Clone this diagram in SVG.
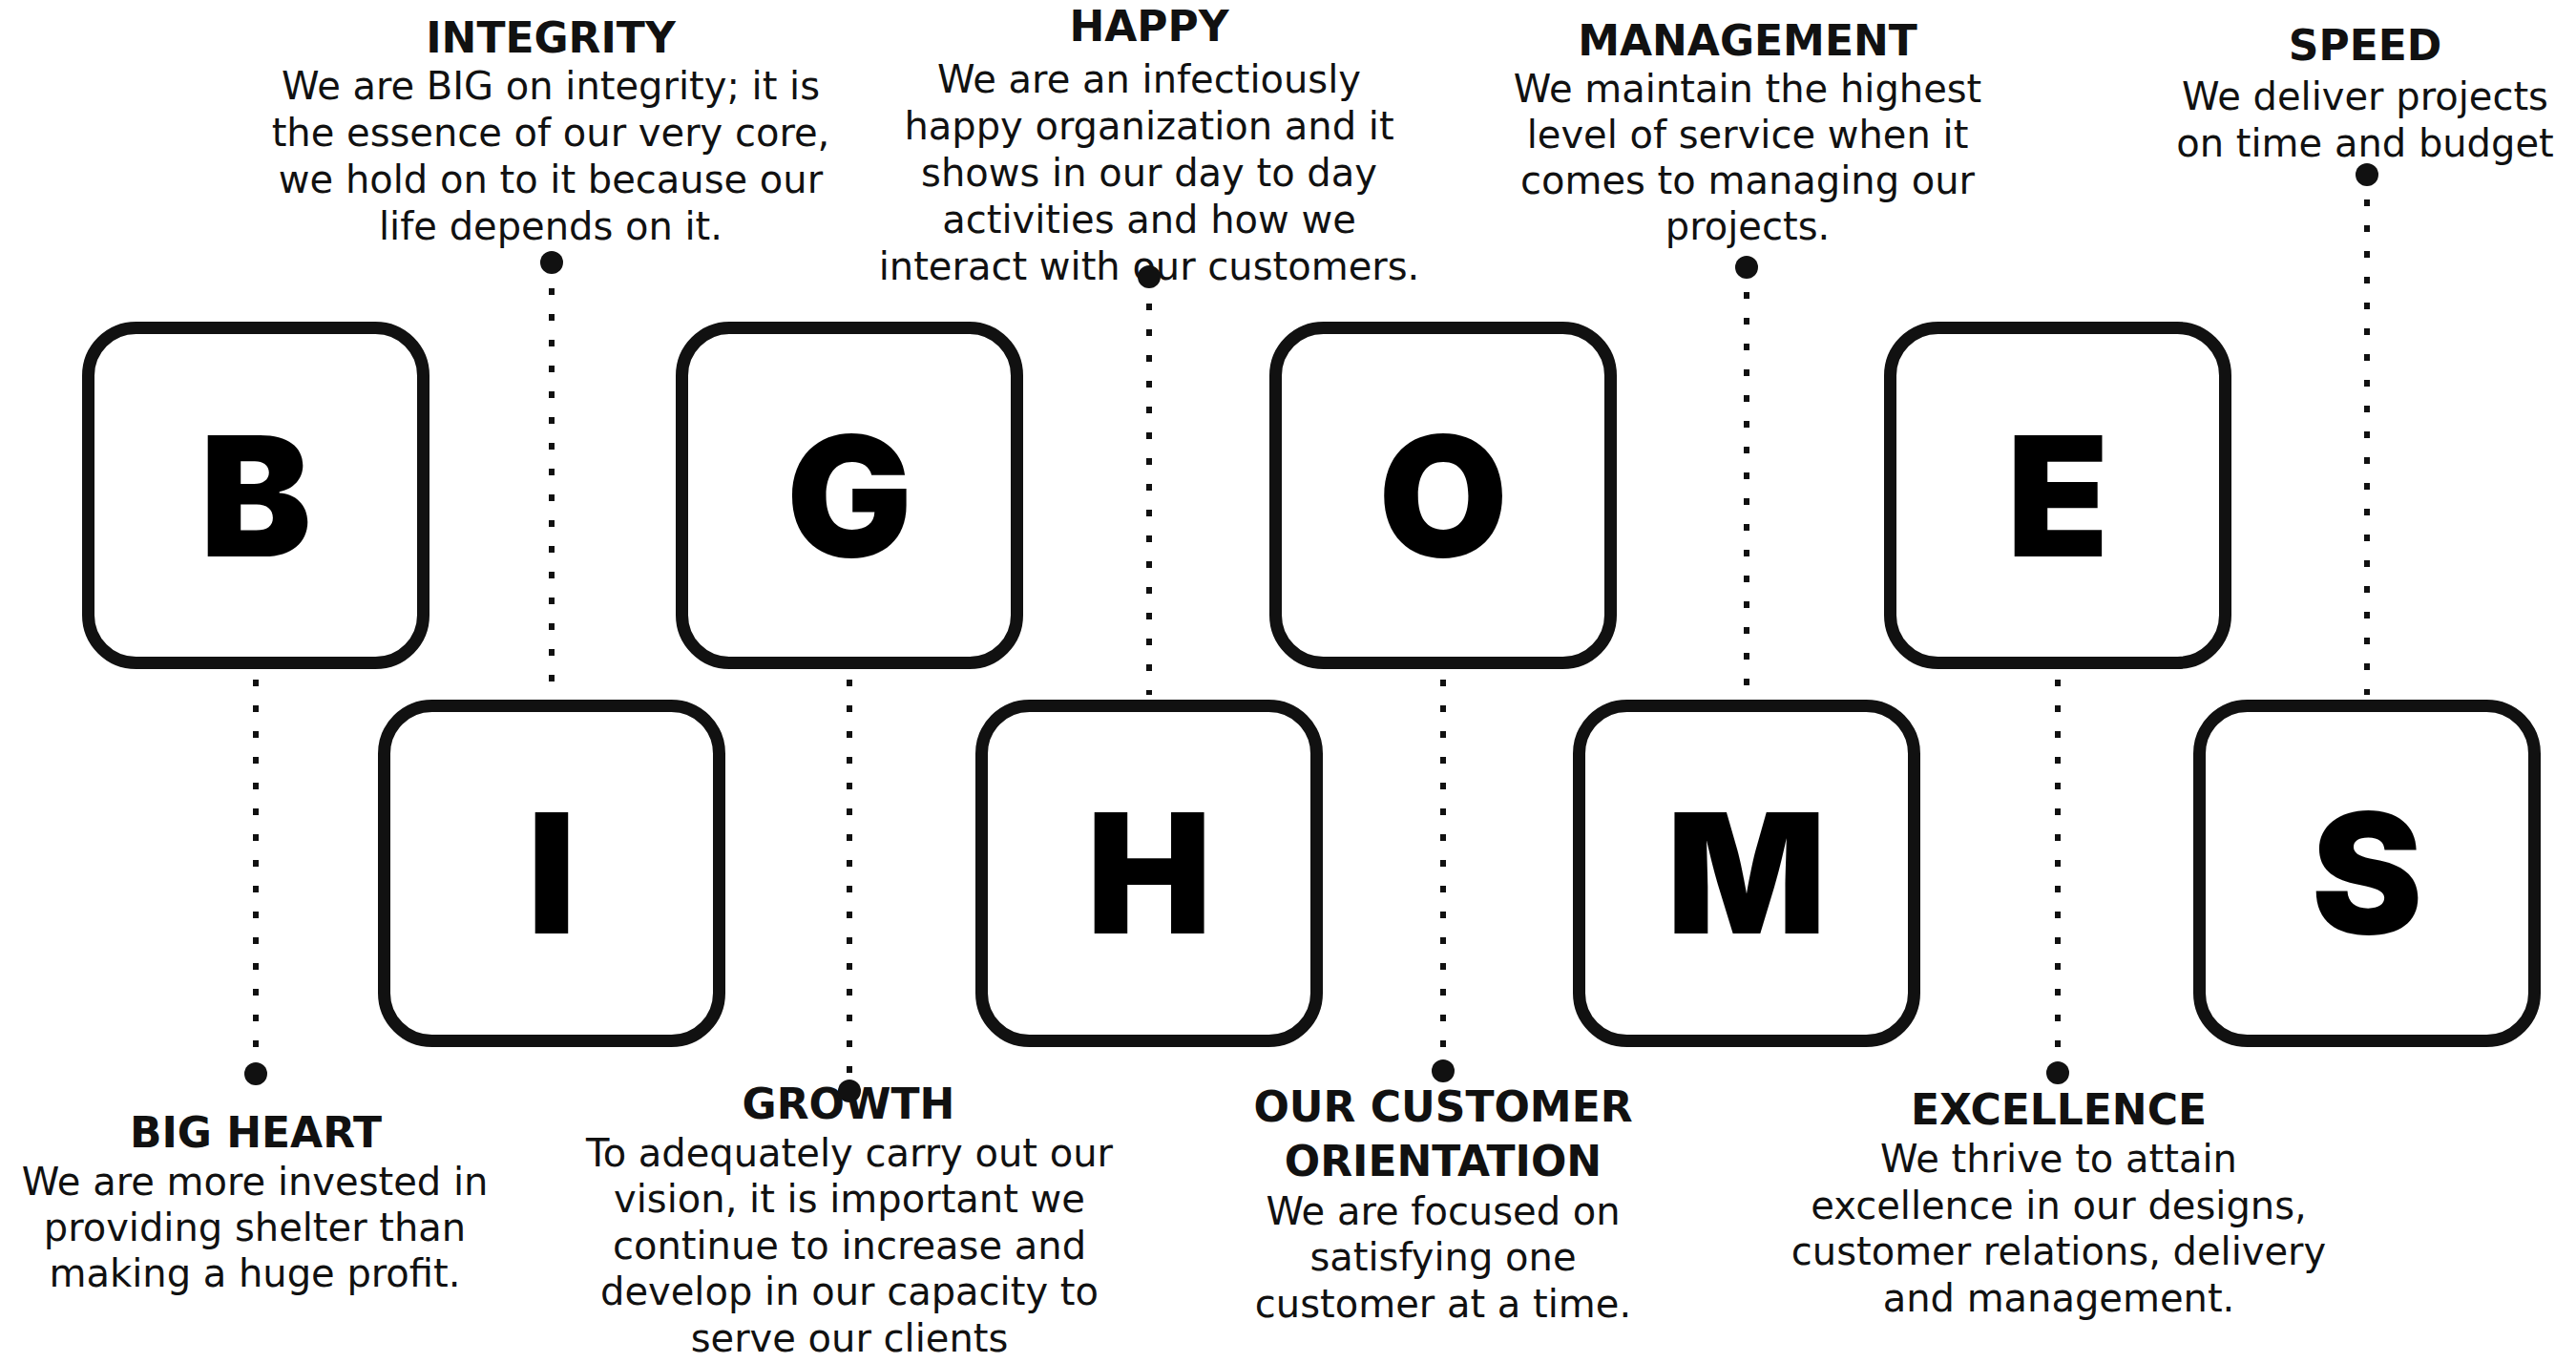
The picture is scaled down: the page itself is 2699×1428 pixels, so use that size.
<svg xmlns="http://www.w3.org/2000/svg" width="2699" height="1428" viewBox="0 0 2699 1428">
<style>
.box{fill:#fff;stroke:#111;stroke-width:13}
.letter{font-family:Inter,"Liberation Sans",sans-serif;font-weight:900;font-size:175px;fill:#000;text-anchor:middle}
.hd{font-family:"DejaVu Sans",sans-serif;font-weight:bold;font-size:44px;fill:#111;text-anchor:middle}
.bd{font-family:"DejaVu Sans",sans-serif;font-size:40px;fill:#111;text-anchor:middle}
.dl{stroke:#111;stroke-width:6;stroke-dasharray:7 20;fill:none}
.dot{fill:#111}
</style>
<rect width="2699" height="1428" fill="#fff"/>
<g id="connectors">
<line class="dl" x1="268" y1="712" x2="268" y2="1112"/>
<line class="dl" x1="890" y1="712" x2="890" y2="1130"/>
<line class="dl" x1="1512" y1="712" x2="1512" y2="1110"/>
<line class="dl" x1="2156" y1="712" x2="2156" y2="1112"/>
<line class="dl" x1="578" y1="302" x2="578" y2="728"/>
<line class="dl" x1="1204" y1="318" x2="1204" y2="728"/>
<line class="dl" x1="1830" y1="306" x2="1830" y2="728"/>
<line class="dl" x1="2480" y1="209" x2="2480" y2="728"/>
<circle class="dot" cx="268" cy="1125" r="12"/>
<circle class="dot" cx="890" cy="1143" r="12"/>
<circle class="dot" cx="1512" cy="1122" r="12"/>
<circle class="dot" cx="2156" cy="1124" r="12"/>
<circle class="dot" cx="578" cy="275" r="12"/>
<circle class="dot" cx="1204" cy="290" r="12"/>
<circle class="dot" cx="1830" cy="280" r="12"/>
<circle class="dot" cx="2480" cy="183" r="12"/>
</g>
<g id="node-B"><rect class="box" x="92.5" y="343.5" width="351" height="351" rx="50"/><text class="letter" x="268" y="583">B</text></g>
<g id="node-G"><rect class="box" x="714.5" y="343.5" width="351" height="351" rx="50"/><text class="letter" x="890" y="583">G</text></g>
<g id="node-O"><rect class="box" x="1336.5" y="343.5" width="351" height="351" rx="50"/><text class="letter" x="1512" y="583">O</text></g>
<g id="node-E"><rect class="box" x="1980.5" y="343.5" width="351" height="351" rx="50"/><text class="letter" x="2156" y="583">E</text></g>
<g id="node-I"><rect class="box" x="402.5" y="739.5" width="351" height="351" rx="50"/><text class="letter" x="578" y="978">I</text></g>
<g id="node-H"><rect class="box" x="1028.5" y="739.5" width="351" height="351" rx="50"/><text class="letter" x="1204" y="978">H</text></g>
<g id="node-M"><rect class="box" x="1654.5" y="739.5" width="351" height="351" rx="50"/><text class="letter" x="1830" y="978">M</text></g>
<g id="node-S"><rect class="box" x="2304.5" y="739.5" width="351" height="351" rx="50"/><text class="letter" x="2480" y="978">S</text></g>
<g id="label-integrity">
<text class="hd" x="577" y="55">INTEGRITY</text>
<text class="bd" x="577" y="104">We are BIG on integrity; it is</text>
<text class="bd" x="577" y="153">the essence of our very core,</text>
<text class="bd" x="577" y="202">we hold on to it because our</text>
<text class="bd" x="577" y="251">life depends on it.</text>
</g>
<g id="label-happy">
<text class="hd" x="1204" y="43">HAPPY</text>
<text class="bd" x="1204" y="97">We are an infectiously</text>
<text class="bd" x="1204" y="146">happy organization and it</text>
<text class="bd" x="1204" y="195">shows in our day to day</text>
<text class="bd" x="1204" y="244">activities and how we</text>
<text class="bd" x="1204" y="293">interact with our customers.</text>
</g>
<g id="label-management">
<text class="hd" x="1831" y="58">MANAGEMENT</text>
<text class="bd" x="1831" y="107">We maintain the highest</text>
<text class="bd" x="1831" y="155">level of service when it</text>
<text class="bd" x="1831" y="203">comes to managing our</text>
<text class="bd" x="1831" y="251">projects.</text>
</g>
<g id="label-speed">
<text class="hd" x="2478" y="63">SPEED</text>
<text class="bd" x="2478" y="115">We deliver projects</text>
<text class="bd" x="2478" y="164">on time and budget</text>
</g>
<g id="label-bigheart">
<text class="hd" x="268" y="1202">BIG HEART</text>
<text class="bd" x="267" y="1252">We are more invested in</text>
<text class="bd" x="267" y="1300">providing shelter than</text>
<text class="bd" x="267" y="1348">making a huge profit.</text>
</g>
<g id="label-growth">
<text class="hd" x="889" y="1172">GROWTH</text>
<text class="bd" x="890" y="1222">To adequately carry out our</text>
<text class="bd" x="890" y="1270">vision, it is important we</text>
<text class="bd" x="890" y="1319">continue to increase and</text>
<text class="bd" x="890" y="1367">develop in our capacity to</text>
<text class="bd" x="890" y="1416">serve our clients</text>
</g>
<g id="label-customer">
<text class="hd" x="1512" y="1175">OUR CUSTOMER</text>
<text class="hd" x="1512" y="1232">ORIENTATION</text>
<text class="bd" x="1512" y="1283">We are focused on</text>
<text class="bd" x="1512" y="1331">satisfying one</text>
<text class="bd" x="1512" y="1380">customer at a time.</text>
</g>
<g id="label-excellence">
<text class="hd" x="2157" y="1178">EXCELLENCE</text>
<text class="bd" x="2157" y="1228">We thrive to attain</text>
<text class="bd" x="2157" y="1277">excellence in our designs,</text>
<text class="bd" x="2157" y="1325">customer relations, delivery</text>
<text class="bd" x="2157" y="1374">and management.</text>
</g>
</svg>
